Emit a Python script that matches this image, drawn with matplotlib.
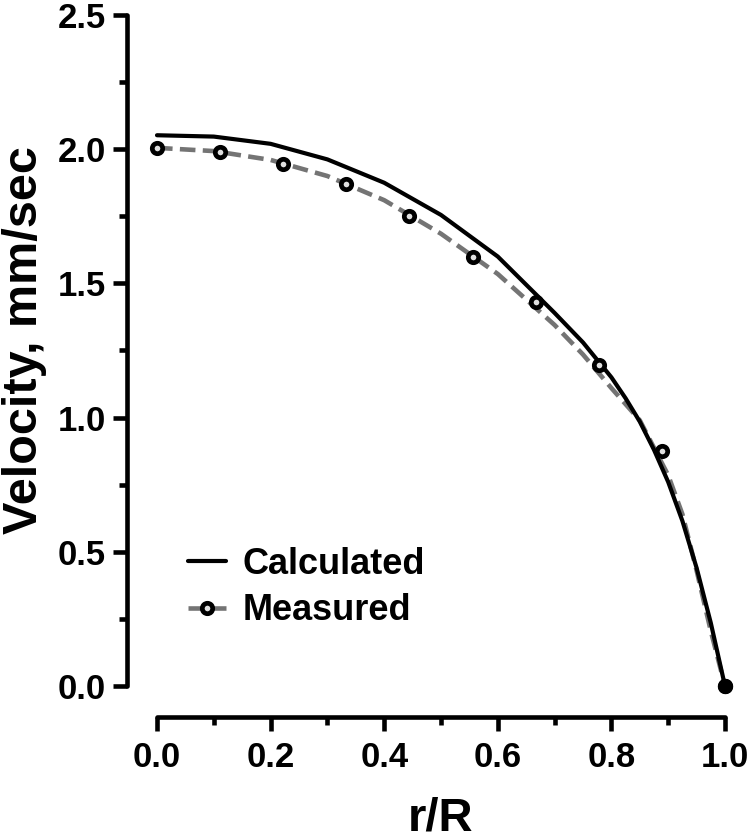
import matplotlib
matplotlib.use("Agg")
import matplotlib.pyplot as plt
from matplotlib.ticker import MultipleLocator, FormatStrFormatter

plt.rcParams['font.family'] = ['Liberation Sans', 'DejaVu Sans']
plt.rcParams['font.weight'] = 'bold'

# measured points (r/R, velocity mm/sec)
measured_r = [0.0, 1/9, 2/9, 3/9, 4/9, 5/9, 6/9, 7/9, 8/9, 1.0]
measured_v = [2.005, 1.99, 1.945, 1.87, 1.75, 1.598, 1.43, 1.196, 0.876, 0.0]

measured_fit_r = [0.0, 0.1, 0.2, 0.3, 0.4, 0.5, 0.6, 0.7, 0.75, 0.8, 0.85, 0.9, 0.925, 0.95, 0.975, 1.0]
measured_fit_v = [2.005, 1.993, 1.96, 1.9, 1.81, 1.685, 1.535, 1.345, 1.235, 1.11, 0.99, 0.785, 0.64, 0.43, 0.205, 0.0]

# calculated profile
calc_r = [0.0, 0.1, 0.2, 0.3, 0.4, 0.5, 0.6, 0.7, 0.75, 0.8, 0.825, 0.85, 0.875, 0.9, 0.925, 0.95, 0.975, 1.0]
calc_v = [2.052, 2.047, 2.02, 1.962, 1.875, 1.755, 1.60, 1.39, 1.28, 1.15, 1.072, 0.985, 0.88, 0.76, 0.615, 0.44, 0.235, 0.0]

fig = plt.figure(figsize=(7.5, 8.4), dpi=100)
ax = fig.add_axes([157/750, 1 - 686/840, 568/750, 671/840])

ax.plot(calc_r, calc_v, color='black', lw=3.0, label='Calculated', zorder=3,
        solid_capstyle='round', solid_joinstyle='round', clip_on=False)
ax.plot(measured_fit_r, measured_fit_v, color='#747474', lw=3.3,
        linestyle=(0, (3.4, 1.6)), zorder=2, clip_on=False)
ax.plot(measured_r, measured_v, linestyle='none', marker='o', ms=7.5, mew=3.4,
        mec='black', mfc='#e0e0e0', zorder=4, clip_on=False)
ax.plot(measured_r[-1:], measured_v[-1:], linestyle='none', marker='o', ms=10,
        mew=1, mec='black', mfc='black', zorder=5, clip_on=False)

# legend proxy for the measured series
ax.plot([], [], color='#747474', lw=3.3, linestyle=(0, (3.4, 1.6)), marker='o',
        ms=7.5, mew=3.4, mec='black', mfc='#e0e0e0', label='Measured')

ax.set_xlim(0, 1)
ax.set_ylim(0, 2.5)

ax.xaxis.set_major_locator(MultipleLocator(0.2))
ax.xaxis.set_minor_locator(MultipleLocator(0.1))
ax.yaxis.set_major_locator(MultipleLocator(0.5))
ax.yaxis.set_minor_locator(MultipleLocator(0.25))
ax.xaxis.set_major_formatter(FormatStrFormatter('%.1f'))
ax.yaxis.set_major_formatter(FormatStrFormatter('%.1f'))

for s in ['top', 'right']:
    ax.spines[s].set_visible(False)
ax.spines['left'].set_position(('outward', 21.6))
ax.spines['bottom'].set_position(('outward', 22.3))
for s in ['left', 'bottom']:
    ax.spines[s].set_linewidth(3.3)
    ax.spines[s].set_capstyle('round')

ax.tick_params(which='major', length=10, width=3.3, labelsize=25, pad=5)
ax.tick_params(which='minor', length=6, width=3.3)
ax.tick_params(axis='x', which='major', pad=7)
for lab in ax.get_xticklabels() + ax.get_yticklabels():
    lab.set_fontweight('bold')

ax.set_ylabel('Velocity, mm/sec', fontsize=35, fontweight='bold', va='baseline')
ax.set_xlabel('r/R', fontsize=34, fontweight='bold', va='baseline')
ax.yaxis.set_label_coords(-0.211, 0.515)
ax.xaxis.set_label_coords(0.5, -0.216)

leg = ax.legend(loc='center left', bbox_to_anchor=(0.055, 0.147), frameon=False,
                fontsize=26, handlelength=1.05, handletextpad=0.45,
                labelspacing=0.32, borderpad=0, borderaxespad=0)
for t in leg.get_texts():
    t.set_fontweight('bold')

fig.savefig('out.png', dpi=100)
